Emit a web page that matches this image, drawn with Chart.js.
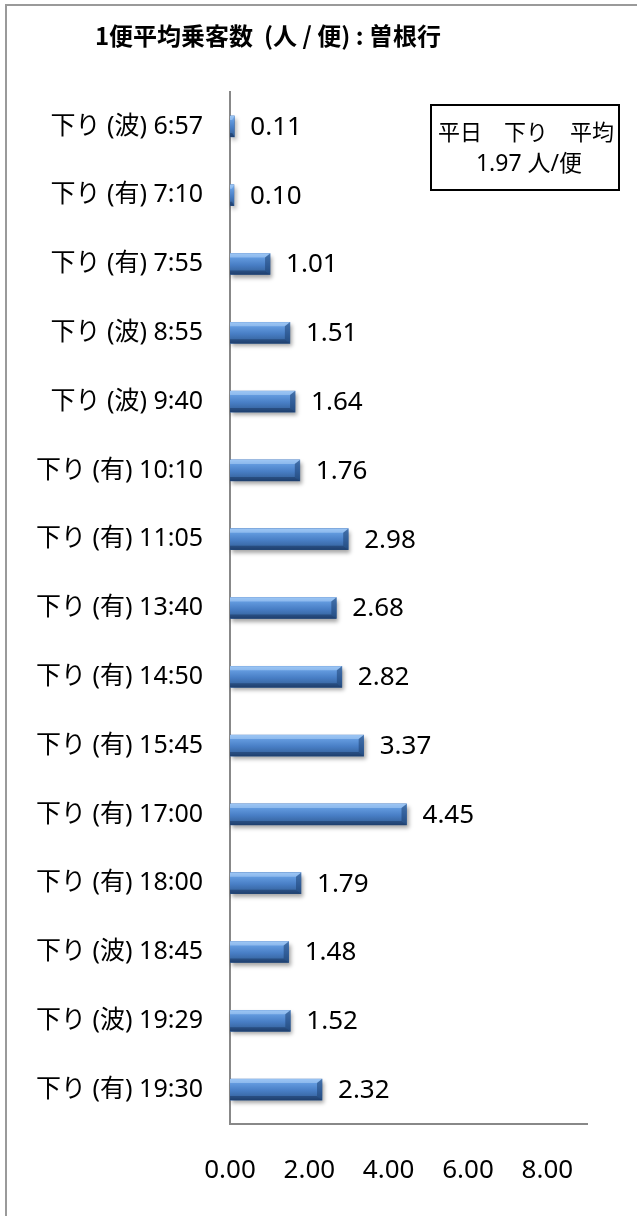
<!DOCTYPE html>
<html>
<head>
<meta charset="utf-8">
<script src="https://cdn.jsdelivr.net/npm/chart.js@4.4.1/dist/chart.umd.min.js"></script>
<style>
  html, body { margin: 0; padding: 0; background: #fff; overflow: hidden; }
  #wrap { position: relative; width: 637px; height: 1216px; }
  #frame { position: absolute; left: 5px; top: 4px; width: 700px; height: 1300px; border: 2px solid #9a9a9a; box-sizing: border-box; }
  #chart { position: absolute; left: 0; top: 0; }
</style>
</head>
<body>
<div id="wrap">
  <div id="frame"></div>
  <canvas id="chart" width="637" height="1216"></canvas>
</div>
<script>
"use strict";

// data
const titleText = "1便平均乗客数  (人 / 便) : 曽根行";
const categories = [
    "下り (波) 6:57", "下り (有) 7:10", "下り (有) 7:55", "下り (波) 8:55",
    "下り (波) 9:40", "下り (有) 10:10", "下り (有) 11:05", "下り (有) 13:40",
    "下り (有) 14:50", "下り (有) 15:45", "下り (有) 17:00", "下り (有) 18:00",
    "下り (波) 18:45", "下り (波) 19:29", "下り (有) 19:30"
];
const passengers = [0.11, 0.10, 1.01, 1.51, 1.64, 1.76, 2.98, 2.68, 2.82, 3.37, 4.45, 1.79, 1.48, 1.52, 2.32];
const xTickValues = [0, 2, 4, 6, 8];
const xMax = 9;
const noteLines = ["平日　下り　平均", "1.97 人/便"];

const FONT = '"Noto Sans", "Noto Sans CJK JP", sans-serif';
const CJK_FONT = '"Noto Sans CJK JP", sans-serif';

// beveled blue look on top of each bar + value labels
const barLook = {
    id: "barLook",
    afterDatasetsDraw(chart) {
        const ctx = chart.ctx;
        const meta = chart.getDatasetMeta(0);
        meta.data.forEach(function(bar, i) {
            const p = bar.getProps(["x", "y", "base", "height"], true);
            const x0 = p.base, x1 = p.x;
            const h = p.height, top = p.y - h / 2, bot = p.y + h / 2;
            const w = x1 - x0;

            let g = ctx.createLinearGradient(0, top, 0, bot);
            g.addColorStop(0, "#86b8f0");
            g.addColorStop(0.18, "#649ce0");
            g.addColorStop(0.55, "#487ec5");
            g.addColorStop(0.85, "#3867a3");
            g.addColorStop(1, "#284f84");

            ctx.save();
            ctx.shadowColor = "rgba(0,0,0,0.35)";
            ctx.shadowBlur = 4;
            ctx.shadowOffsetX = 2;
            ctx.shadowOffsetY = 3;
            ctx.fillStyle = g;
            ctx.fillRect(x0, top, w, h);
            ctx.restore();

            ctx.save();
            const bev = Math.min(5, w / 2);
            // top highlight
            ctx.fillStyle = "rgba(175,210,248,0.55)";
            ctx.beginPath();
            ctx.moveTo(x0, top);
            ctx.lineTo(x1, top);
            ctx.lineTo(x1 - bev, top + 4);
            ctx.lineTo(x0, top + 4);
            ctx.closePath();
            ctx.fill();
            // bottom dark edge
            ctx.fillStyle = "rgba(20,45,85,0.45)";
            ctx.beginPath();
            ctx.moveTo(x0, bot);
            ctx.lineTo(x1, bot);
            ctx.lineTo(x1 - bev, bot - 4);
            ctx.lineTo(x0, bot - 4);
            ctx.closePath();
            ctx.fill();
            // right end bevel
            if (w > 8) {
                ctx.fillStyle = "rgba(30,65,115,0.55)";
                ctx.beginPath();
                ctx.moveTo(x1, top);
                ctx.lineTo(x1, bot);
                ctx.lineTo(x1 - bev, bot - 4);
                ctx.lineTo(x1 - bev, top + 4);
                ctx.closePath();
                ctx.fill();
            }
            ctx.restore();

            // value label
            ctx.save();
            ctx.fillStyle = "#000";
            ctx.font = "26px " + FONT;
            ctx.textAlign = "left";
            ctx.textBaseline = "middle";
            ctx.fillText(passengers[i].toFixed(2), x1 + 16, p.y + 1);
            ctx.restore();
        });
    }
};

// title and the average note box
const extras = {
    id: "extras",
    afterDraw(chart) {
        const ctx = chart.ctx;
        ctx.save();
        ctx.fillStyle = "#000";
        ctx.font = "bold 24px " + CJK_FONT;
        ctx.textAlign = "center";
        ctx.textBaseline = "middle";
        ctx.fillText(titleText, 268, 36);

        ctx.strokeStyle = "#000";
        ctx.lineWidth = 2;
        ctx.strokeRect(431, 105, 188, 85);
        ctx.font = "22px " + FONT;
        ctx.fillText(noteLines[0], 526, 134);
        ctx.font = "23px " + FONT;
        ctx.fillText(noteLines[1], 529, 164);
        ctx.restore();
    }
};

let chartHtml = document.getElementById("chart");
let chart = new Chart(chartHtml, {
    type: "bar",
    data: {
        labels: categories,
        datasets: [{
            data: passengers,
            backgroundColor: "#487ec5",
            borderWidth: 0,
            barThickness: 21
        }]
    },
    options: {
        indexAxis: "y",
        responsive: false,
        animation: false,
        layout: { padding: { top: 92, right: 50, bottom: 0, left: 0 } },
        plugins: {
            legend: { display: false },
            title: { display: false },
            tooltip: { enabled: false }
        },
        scales: {
            x: {
                min: 0,
                max: xMax,
                afterBuildTicks: function(axis) {
                    axis.ticks = xTickValues.map(v => ({ value: v }));
                },
                afterFit: function(axis) { axis.height = 92; },
                grid: { display: false, drawTicks: false },
                border: { display: true, color: "#888888", width: 2 },
                ticks: {
                    padding: 31,
                    color: "#000",
                    font: { family: FONT, size: 26 },
                    callback: v => Number(v).toFixed(2)
                }
            },
            y: {
                afterFit: function(axis) { axis.width = 230; },
                grid: { display: false, drawTicks: false },
                border: { display: true, color: "#888888", width: 2 },
                ticks: {
                    padding: 27,
                    color: "#000",
                    font: { family: FONT, size: 25 }
                }
            }
        }
    },
    plugins: [barLook, extras]
});
</script>
</body>
</html>
